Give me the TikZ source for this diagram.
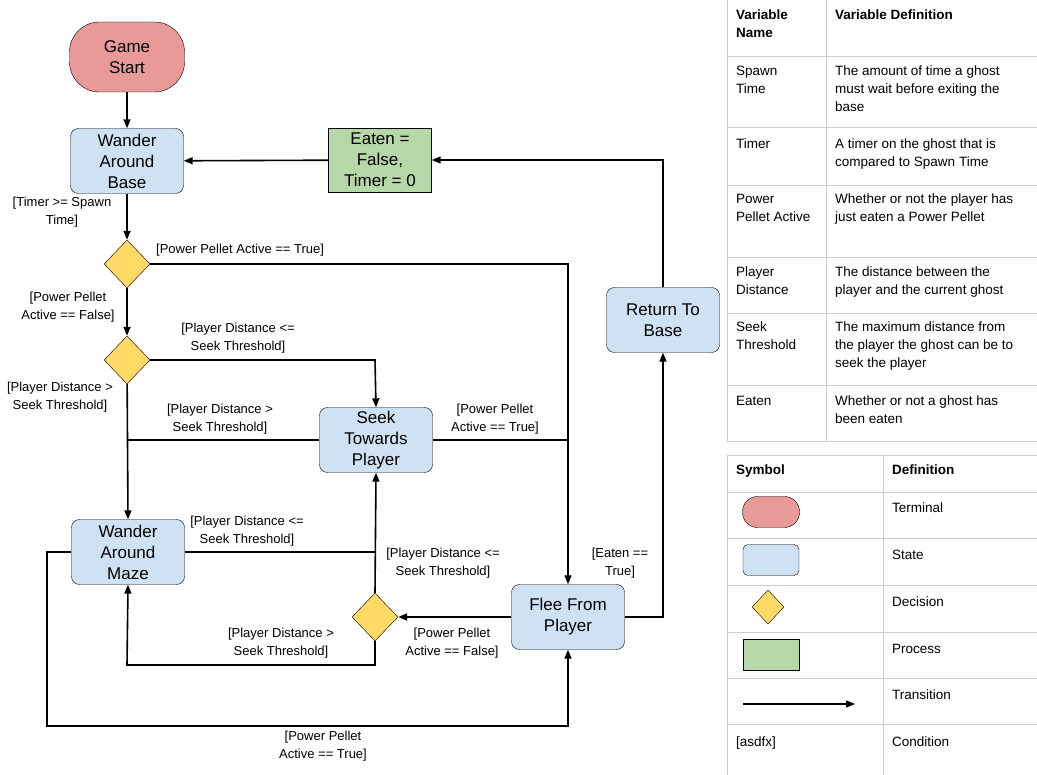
\documentclass[tikz,border=0pt]{standalone}
\usepackage{fontspec}
\setmainfont{Liberation Sans}
\usetikzlibrary{shapes.geometric,arrows.meta}
\definecolor{st}{HTML}{CFE2F3}
\definecolor{term}{HTML}{EA9999}
\definecolor{proc}{HTML}{B6D7A8}
\definecolor{dec}{HTML}{FFD966}
\definecolor{grid}{HTML}{CCCCCC}
\begin{document}
\begin{tikzpicture}[x=1pt,y=-1pt,
  every node/.style={inner sep=0pt},
  state/.style={draw,fill=st,rounded corners=8pt,minimum width=113pt,minimum height=65pt,align=center,font=\fontsize{17}{21}\selectfont},
  termn/.style={draw,fill=term,rounded corners=30pt,minimum width=115pt,minimum height=70pt,align=center,font=\fontsize{17}{21}\selectfont},
  procn/.style={draw,fill=proc,minimum width=103pt,minimum height=64pt,align=center,font=\fontsize{17}{21}\selectfont},
  decn/.style={draw,fill=dec,diamond,minimum width=46pt,minimum height=48pt},
  lbl/.style={align=center,font=\fontsize{13}{18}\selectfont},
  tx/.style={align=left,anchor=north west,font=\fontsize{13.5}{18}\selectfont},
  arr/.style={draw,line width=1.6pt,-{Triangle[length=9pt,width=7pt]}},
  ln/.style={draw,line width=1.6pt}]
\useasboundingbox (0,0) rectangle (1037,775);
% nodes
\node[termn] (gs) at (127,57) {Game\\Start};
\node[state] (wab) at (127,161) {Wander\\Around\\Base};
\node[procn] (eat) at (380,160) {Eaten =\\False,\\Timer = 0};
\node[decn] (d1) at (127,264) {};
\node[decn] (d2) at (127,360) {};
\node[state] (seek) at (376,440) {Seek\\Towards\\Player};
\node[state] (wm) at (128,552) {Wander\\Around\\Maze};
\node[decn] (d3) at (375,617) {};
\node[state] (flee) at (568,617) {Flee From\\Player};
\node[state] (ret) at (663,320) {Return To\\Base};
\coordinate (c1) at (568,264);
\coordinate (c2) at (375,360);
\coordinate (c3) at (127,440);
\coordinate (c4) at (568,440);
\coordinate (c5) at (375,552);
\coordinate (c6) at (375,665);
\coordinate (c7) at (127,665);
\coordinate (c8) at (663,617);
\coordinate (c9) at (47,552);
\coordinate (c10) at (47,726);
\coordinate (c11) at (568,726);
\coordinate (c12) at (663,160);
% edges
\path[arr] (gs) -- (wab);
\path[arr] (eat) -- (wab);
\path[arr] (ret.north) -- (c12) -- (eat.east);
\path[arr] (wab) -- (d1);
\path[arr] (d1.east) -- (c1) -- (flee.north);
\path[arr] (d1) -- (d2);
\path[arr] (d2.east) -- (c2) -- (seek.north);
\path[arr] (d2) -- (wm.north);
\path[ln] (seek.west) -- (c3);
\path[ln] (seek.east) -- (c4);
\path[ln] (wm.east) -- (c5);
\path[arr] (d3.north) -- (seek.south);
\path[arr] (d3.south) -- (c6) -- (c7) -- (wm.south);
\path[arr] (flee.west) -- (d3.east);
\path[arr] (flee.east) -- (c8) -- (ret.south);
\path[arr] (wm.west) -- (c9) -- (c10) -- (c11) -- (flee.south);
% labels
\node[lbl] at (62,212) {[Timer >= Spawn\\Time]};
\node[lbl,anchor=west] at (156,250) {[Power Pellet Active == True]};
\node[lbl] at (68,307) {[Power Pellet\\Active == False]};
\node[lbl] at (238,338) {[Player Distance <=\\Seek Threshold]};
\node[lbl] at (60,397) {[Player Distance >\\Seek Threshold]};
\node[lbl] at (220,419) {[Player Distance >\\Seek Threshold]};
\node[lbl] at (495,419) {[Power Pellet\\Active == True]};
\node[lbl] at (247,531) {[Player Distance <=\\Seek Threshold]};
\node[lbl] at (443,563) {[Player Distance <=\\Seek Threshold]};
\node[lbl] at (281,643) {[Player Distance >\\Seek Threshold]};
\node[lbl] at (452,643) {[Power Pellet\\Active == False]};
\node[lbl] at (620,563) {[Eaten ==\\True]};
\node[lbl] at (323,746) {[Power Pellet\\Active == True]};
% table 1
\draw[grid] (727,0) -- (727,441) -- (1037,441);
\draw[grid] (826,0) -- (826,441);
\foreach \y in {56,127,185,257,313,385} \draw[grid] (727,\y) -- (1037,\y);
\node[tx,font=\bfseries\fontsize{13.5}{18}\selectfont] at (736,10) {Variable\\Name};
\node[tx,font=\bfseries\fontsize{13.5}{18}\selectfont] at (835,10) {Variable Definition};
\node[tx] at (736,66) {Spawn\\Time};
\node[tx] at (835,66) {The amount of time a ghost\\must wait before exiting the\\base};
\node[tx] at (736,139) {Timer};
\node[tx] at (835,139) {A timer on the ghost that is\\compared to Spawn Time};
\node[tx] at (736,194) {Power\\Pellet Active};
\node[tx] at (835,194) {Whether or not the player has\\just eaten a Power Pellet};
\node[tx] at (736,267) {Player\\Distance};
\node[tx] at (835,267) {The distance between the\\player and the current ghost};
\node[tx] at (736,322) {Seek\\Threshold};
\node[tx] at (835,322) {The maximum distance from\\the player the ghost can be to\\seek the player};
\node[tx] at (736,396) {Eaten};
\node[tx] at (835,396) {Whether or not a ghost has\\been eaten};
% table 2
\draw[grid] (727,455) rectangle (1037,775);
\draw[grid] (883,455) -- (883,775);
\foreach \y in {492,538,585,632,678,724} \draw[grid] (727,\y) -- (1037,\y);
\node[tx,font=\bfseries\fontsize{13.5}{18}\selectfont] at (736,465) {Symbol};
\node[tx,font=\bfseries\fontsize{13.5}{18}\selectfont] at (892,465) {Definition};
\node[draw,fill=term,rounded corners=15pt,minimum width=57pt,minimum height=31pt] (s1) at (771,512) {};
\node[tx] at (892,503) {Terminal};
\node[draw,fill=st,rounded corners=5pt,minimum width=56pt,minimum height=31pt] (s2) at (771,560) {};
\node[tx] at (892,550) {State};
\node[draw,fill=dec,diamond,minimum width=32pt,minimum height=34pt] (s3) at (768,607) {};
\node[tx] at (892,597) {Decision};
\node[draw,fill=proc,minimum width=56pt,minimum height=31pt] (s4) at (771,655) {};
\node[tx] at (892,644) {Process};
\coordinate (t1) at (743,704);
\coordinate (t2) at (855,704);
\path[draw,line width=1.3pt,-{Triangle[length=9pt,width=7pt]}] (t1) -- (t2);
\node[tx] at (892,690) {Transition};
\node[tx] at (736,737) {[asdfx]};
\node[tx] at (892,737) {Condition};
\end{tikzpicture}
\end{document}
